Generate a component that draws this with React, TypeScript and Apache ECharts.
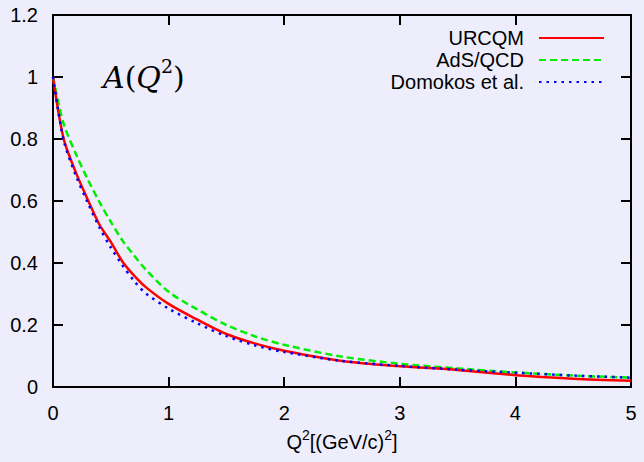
import React, { useEffect, useRef } from "react";
import * as echarts from "echarts";

const qValues = [0, 0.05, 0.1, 0.2, 0.3, 0.4, 0.5, 0.6, 0.7, 0.8, 1.0, 1.25, 1.5, 1.75, 2.0, 2.5, 3.0, 3.5, 4.0, 4.5, 5.0];
const urcqm = [1.0, 0.88, 0.79, 0.69, 0.605, 0.525, 0.468, 0.405, 0.36, 0.323, 0.268, 0.217, 0.171, 0.14, 0.117, 0.084, 0.067, 0.055, 0.038, 0.027, 0.02];
const adsQcd = [1.0, 0.91, 0.84, 0.75, 0.67, 0.598, 0.533, 0.473, 0.425, 0.38, 0.307, 0.25, 0.2, 0.163, 0.136, 0.098, 0.075, 0.06, 0.047, 0.037, 0.03];
const domokos = [1.0, 0.88, 0.785, 0.68, 0.595, 0.516, 0.45, 0.393, 0.343, 0.303, 0.253, 0.205, 0.164, 0.134, 0.113, 0.084, 0.068, 0.056, 0.046, 0.037, 0.03];

const seriesNames = ["URCQM", "AdS/QCD", "Domokos et al."];
const seriesColors = ["#ff0000", "#00ee00", "#0000ff"];

const xTicks = { min: 0, max: 5, interval: 1 };
const yTicks = { min: 0, max: 1.2, interval: 0.2 };

const BG = "#ededfc";
const FONT = "'Liberation Sans', Arial, sans-serif";
const AX = "#000";

export default function App() {
  const ref = useRef<HTMLDivElement>(null);
  useEffect(() => {
    if (!ref.current) return;
    const chart = echarts.init(ref.current, null, { renderer: "svg" });
    const pairs = (ys: number[]) => qValues.map((q, i) => [q, ys[i]]);
    const axisLine = () => ({ show: true, onZero: false, lineStyle: { color: AX, width: 2 } });
    const tick = () => ({ show: true, inside: true, length: 10, lineStyle: { color: AX, width: 2 } });
    const legendBase = (name: string, top: number) => ({
      data: [name],
      right: 39,
      top,
      align: "right",
      itemWidth: 65,
      itemHeight: 20,
      padding: 0,
      selectedMode: false,
      itemStyle: { color: "rgba(0,0,0,0)", borderWidth: 0, borderColor: "rgba(0,0,0,0)" },
      textStyle: { fontFamily: FONT, fontSize: 20, color: "#000", padding: [0, 10, 0, 0] },
    });
    chart.setOption({
      animation: false,
      backgroundColor: BG,
      grid: { left: 53, right: 13, top: 15, bottom: 75, show: true, borderColor: AX, borderWidth: 2, backgroundColor: "transparent" },
      xAxis: [
        {
          type: "value",
          min: xTicks.min,
          max: xTicks.max,
          interval: xTicks.interval,
          axisLine: axisLine(),
          axisTick: tick(),
          splitLine: { show: false },
          axisLabel: { fontFamily: FONT, fontSize: 20, color: "#000", margin: 16 },
          name: "{q|Q}{s|2}{t|[(GeV/c)}{s|2}{t|]}",
          nameLocation: "middle",
          nameGap: 41,
          nameTextStyle: {
            rich: {
              q: { fontFamily: FONT, fontSize: 20, color: "#000", verticalAlign: "bottom", lineHeight: 24 },
              t: { fontFamily: FONT, fontSize: 20, color: "#000", verticalAlign: "bottom", lineHeight: 24 },
              s: { fontFamily: FONT, fontSize: 14, color: "#000", verticalAlign: "top", lineHeight: 24 },
            },
          },
        },
        {
          type: "value",
          position: "top",
          min: xTicks.min,
          max: xTicks.max,
          interval: xTicks.interval,
          axisLine: axisLine(),
          axisTick: tick(),
          splitLine: { show: false },
          axisLabel: { show: false },
        },
      ],
      yAxis: [
        {
          type: "value",
          min: yTicks.min,
          max: yTicks.max,
          interval: yTicks.interval,
          axisLine: axisLine(),
          axisTick: tick(),
          splitLine: { show: false },
          axisLabel: { fontFamily: FONT, fontSize: 20, color: "#000", margin: 15 },
        },
        {
          type: "value",
          position: "right",
          min: yTicks.min,
          max: yTicks.max,
          interval: yTicks.interval,
          axisLine: axisLine(),
          axisTick: tick(),
          splitLine: { show: false },
          axisLabel: { show: false },
        },
      ],
      legend: [legendBase(seriesNames[0], 28), legendBase(seriesNames[1], 50), legendBase(seriesNames[2], 72)],
      graphic: [
        {
          type: "text",
          left: 103,
          top: 56,
          style: {
            text: "{i|A}{n|(}{i|Q}{s|2}{n|)}",
            rich: {
              i: { fontFamily: "'DejaVu Serif', serif", fontStyle: "italic", fontSize: 30, fill: "#000", verticalAlign: "bottom", lineHeight: 36 },
              n: { fontFamily: "'DejaVu Serif', serif", fontSize: 30, fill: "#000", verticalAlign: "bottom", lineHeight: 36 },
              s: { fontFamily: "'DejaVu Serif', serif", fontSize: 19, fill: "#000", verticalAlign: "top", lineHeight: 36 },
            },
          },
        },
      ],
      series: [
        {
          name: seriesNames[0],
          type: "line",
          data: pairs(urcqm),
          symbol: "none",
          smooth: 0.3,
          lineStyle: { color: seriesColors[0], width: 2.5, type: "solid" },
          itemStyle: { color: seriesColors[0] },
          z: 3,
        },
        {
          name: seriesNames[1],
          type: "line",
          data: pairs(adsQcd),
          symbol: "none",
          smooth: 0.3,
          lineStyle: { color: seriesColors[1], width: 2.5, type: [7, 4] },
          itemStyle: { color: seriesColors[1] },
          z: 2,
        },
        {
          name: seriesNames[2],
          type: "line",
          data: pairs(domokos),
          symbol: "none",
          smooth: 0.3,
          lineStyle: { color: seriesColors[2], width: 2.5, type: [2.5, 5] },
          itemStyle: { color: seriesColors[2] },
          z: 4,
        },
      ],
    });
    return () => chart.dispose();
  }, []);
  return <div ref={ref} style={{ position: "absolute", left: 0, top: 0, width: 644, height: 462 }} />;
}
